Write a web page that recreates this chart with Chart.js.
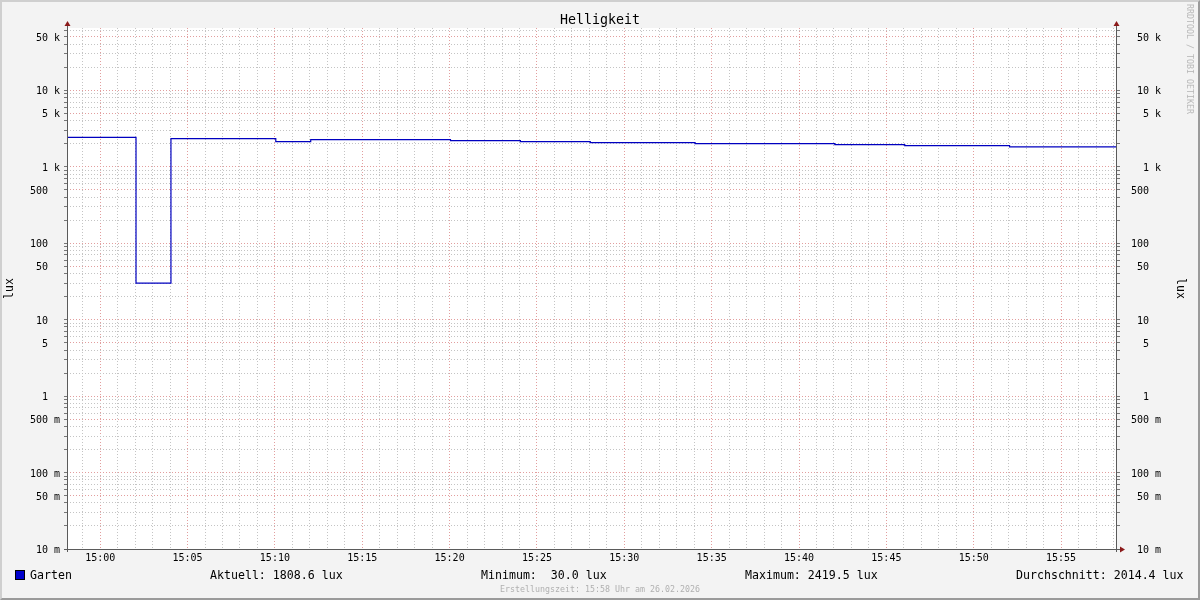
<!DOCTYPE html>
<html>
<head>
<meta charset="utf-8">
<script src="https://cdn.jsdelivr.net/npm/chart.js@4.4.1/dist/chart.umd.min.js"></script>
<style>
body { margin: 0; background: #f3f3f3; }
#wrap { position: relative; width: 1200px; height: 600px; font-family: "DejaVu Sans Mono", monospace; overflow: hidden; }
#wrap canvas { position: absolute; left: 0; top: 0; }
.t { position: absolute; white-space: pre; color: #000; }
#frame { position: absolute; left: 0; top: 0; width: 1200px; height: 600px; box-sizing: border-box;
  border-top: 2px solid #cfcfcf; border-left: 2px solid #cfcfcf; border-right: 2px solid #9a9a9a; border-bottom: 2px solid #9a9a9a; pointer-events: none; }
</style>
</head>
<body>
<div id="wrap">
  <canvas id="chart" width="1200" height="600"></canvas>
  <div class="t" style="left:0;width:1200px;top:11px;text-align:center;font-size:13.3px;line-height:18px;">Helligkeit</div>
  <div class="t" style="left:1185px;top:4px;font-size:8.3px;color:#b8b8b8;transform-origin:0 0;transform:rotate(90deg) translate(0,-10px);">RRDTOOL / TOBI OETIKER</div>
  <div style="position:absolute;left:15px;top:570px;width:10px;height:10px;box-sizing:border-box;border:1px solid #000;background:#0000cc;"></div>
  <div class="t" id="lg" style="left:30px;top:568px;font-size:11.6px;line-height:14px;"></div>
  <div class="t" id="cur" style="left:210px;top:568px;font-size:11.6px;line-height:14px;"></div>
  <div class="t" id="min" style="left:481px;top:568px;font-size:11.6px;line-height:14px;"></div>
  <div class="t" id="max" style="left:745px;top:568px;font-size:11.6px;line-height:14px;"></div>
  <div class="t" id="avg" style="left:1016px;top:568px;font-size:11.6px;line-height:14px;"></div>
  <div class="t" style="left:0;width:1200px;top:584px;text-align:center;font-size:8.3px;line-height:10px;color:#b0b0b0;">Erstellungszeit: 15:58 Uhr am 26.02.2026</div>
  <div id="frame"></div>
</div>
<script>
// minutes relative to 15:00, each value holds until the next start
const stepStart = [-1.9, 2.05, 4.05, 10.05, 12.05, 20.05, 24.05, 28.05, 34.05, 42.05, 46.05, 52.05, 58.2];
const lux = [2419.5, 30.0, 2322, 2124, 2255, 2187, 2124, 2059, 1998, 1939, 1882, 1808.6, 1808.6];

const seriesName = 'Garten';
const statLabels = ['Aktuell: 1808.6 lux', 'Minimum:  30.0 lux', 'Maximum: 2419.5 lux', 'Durchschnitt: 2014.4 lux'];

const xMin = -1.9, xMax = 58.2;
const xLabelEvery = 5;
const yMin = 0.01, yMax = 65000;
const yMajorMantissa = [1, 5];

document.getElementById('lg').textContent = seriesName;
document.getElementById('cur').textContent = statLabels[0];
document.getElementById('min').textContent = statLabels[1];
document.getElementById('max').textContent = statLabels[2];
document.getElementById('avg').textContent = statLabels[3];

const red = 'rgb(226,158,158)';
const grey = 'rgb(196,196,196)';

function timeLabel(m) {
  let h = 15, mm = m;
  if (mm < 0) { h = 14; mm += 60; }
  return h + ':' + String(mm).padStart(2, '0');
}

function luxLabel(v) {
  let s;
  if (v >= 1000) s = Math.round(v / 1000) + ' k';
  else if (v < 1) s = Math.round(v * 1000) + ' m';
  else s = Math.round(v) + '  ';
  return s.padStart(5, ' ');
}

function yTicks(scale) {
  const t = [];
  for (let e = -2; e <= 4; e++) {
    for (let m = 1; m <= 9; m++) {
      const v = m * Math.pow(10, e);
      if (v <= yMax * 1.0001) t.push({ value: v, major: yMajorMantissa.includes(m) });
    }
  }
  scale.ticks = t;
}

function xTicks(scale) {
  const t = [];
  for (let m = Math.ceil(xMin); m <= Math.floor(xMax); m++) {
    t.push({ value: m, major: m % xLabelEvery === 0 });
  }
  scale.ticks = t;
}

const decor = {
  id: 'decor',
  beforeDraw(c) {
    const { ctx, chartArea: a } = c;
    ctx.save();
    ctx.fillStyle = '#fff';
    ctx.fillRect(a.left, a.top, a.right - a.left, a.bottom - a.top);
    ctx.restore();
  },
  afterDraw(c) {
    const { ctx, chartArea: a } = c;
    ctx.save();
    ctx.strokeStyle = '#5a5a5a';
    ctx.lineWidth = 1;
    ctx.beginPath();
    ctx.moveTo(Math.round(a.left) + 0.5, a.top - 4);
    ctx.lineTo(Math.round(a.left) + 0.5, a.bottom + 3);
    ctx.moveTo(Math.round(a.right) - 0.5, a.top - 4);
    ctx.lineTo(Math.round(a.right) - 0.5, a.bottom + 3);
    ctx.moveTo(a.left - 3, Math.round(a.bottom) + 0.5);
    ctx.lineTo(a.right + 3, Math.round(a.bottom) + 0.5);
    ctx.stroke();
    ctx.fillStyle = '#8b1a1a';
    const up = (x) => {
      ctx.beginPath();
      ctx.moveTo(x, a.top - 7);
      ctx.lineTo(x - 3, a.top - 2);
      ctx.lineTo(x + 3, a.top - 2);
      ctx.closePath();
      ctx.fill();
    };
    up(Math.round(a.left) + 0.5);
    up(Math.round(a.right) - 0.5);
    const yb = Math.round(a.bottom) + 0.5;
    ctx.beginPath();
    ctx.moveTo(a.right + 8, yb);
    ctx.lineTo(a.right + 3, yb - 3);
    ctx.lineTo(a.right + 3, yb + 3);
    ctx.closePath();
    ctx.fill();
    ctx.restore();
  }
};

const monoSmall = { family: '"DejaVu Sans Mono", monospace', size: 10 };
const monoAxis = { family: '"DejaVu Sans Mono", monospace', size: 11.5 };

function gridColor(ctx) {
  return ctx.tick && ctx.tick.major ? red : grey;
}

new Chart(document.getElementById('chart'), {
  type: 'line',
  data: {
    datasets: [{
      label: seriesName,
      data: stepStart.map((x, i) => ({ x: x, y: lux[i] })),
      borderColor: '#0000c0',
      borderWidth: 1.2,
      pointRadius: 0,
      stepped: 'before',
      fill: false
    }]
  },
  options: {
    responsive: false,
    animation: false,
    layout: { padding: { top: 28, left: 0, right: 0, bottom: 0 } },
    plugins: { legend: { display: false }, tooltip: { enabled: false } },
    scales: {
      x: {
        type: 'linear',
        min: xMin,
        max: xMax,
        bounds: 'data',
        afterBuildTicks: xTicks,
        afterFit: (s) => { s.height = 51; },
        ticks: {
          autoSkip: false,
          maxRotation: 0,
          padding: 3,
          color: '#000',
          font: monoSmall,
          callback: (v, i, t) => (t[i].major ? timeLabel(v) : '')
        },
        grid: { color: gridColor, lineWidth: 1, drawTicks: false, borderDash: [1, 2] },
        border: { display: false, dash: [1, 2] }
      },
      y: {
        type: 'logarithmic',
        position: 'left',
        min: yMin,
        max: yMax,
        afterBuildTicks: yTicks,
        afterFit: (s) => { s.width = 67; },
        ticks: {
          autoSkip: false,
          padding: 4,
          labelOffset: 1.5,
          color: '#000',
          font: monoSmall,
          callback: (v, i, t) => (t[i].major ? luxLabel(v) : '')
        },
        grid: { color: gridColor, lineWidth: 1, drawTicks: true, tickLength: 3, tickColor: '#777', tickBorderDash: [], borderDash: [1, 2] },
        border: { display: false, dash: [1, 2] },
        title: { display: true, text: 'lux', color: '#000', font: monoAxis, padding: { top: 3, bottom: 0 } }
      },
      y2: {
        type: 'logarithmic',
        position: 'right',
        min: yMin,
        max: yMax,
        afterBuildTicks: yTicks,
        afterFit: (s) => { s.width = 83; },
        ticks: {
          autoSkip: false,
          padding: 11,
          labelOffset: 1.5,
          color: '#000',
          font: monoSmall,
          callback: (v, i, t) => (t[i].major ? luxLabel(v) : '')
        },
        grid: { drawOnChartArea: false, drawTicks: true, tickLength: 3, tickColor: '#777', tickBorderDash: [] },
        border: { display: false },
        title: { display: true, text: 'lux', color: '#000', font: monoAxis, padding: { top: 13, bottom: 0 } }
      }
    }
  },
  plugins: [decor]
});
</script>
</body>
</html>
